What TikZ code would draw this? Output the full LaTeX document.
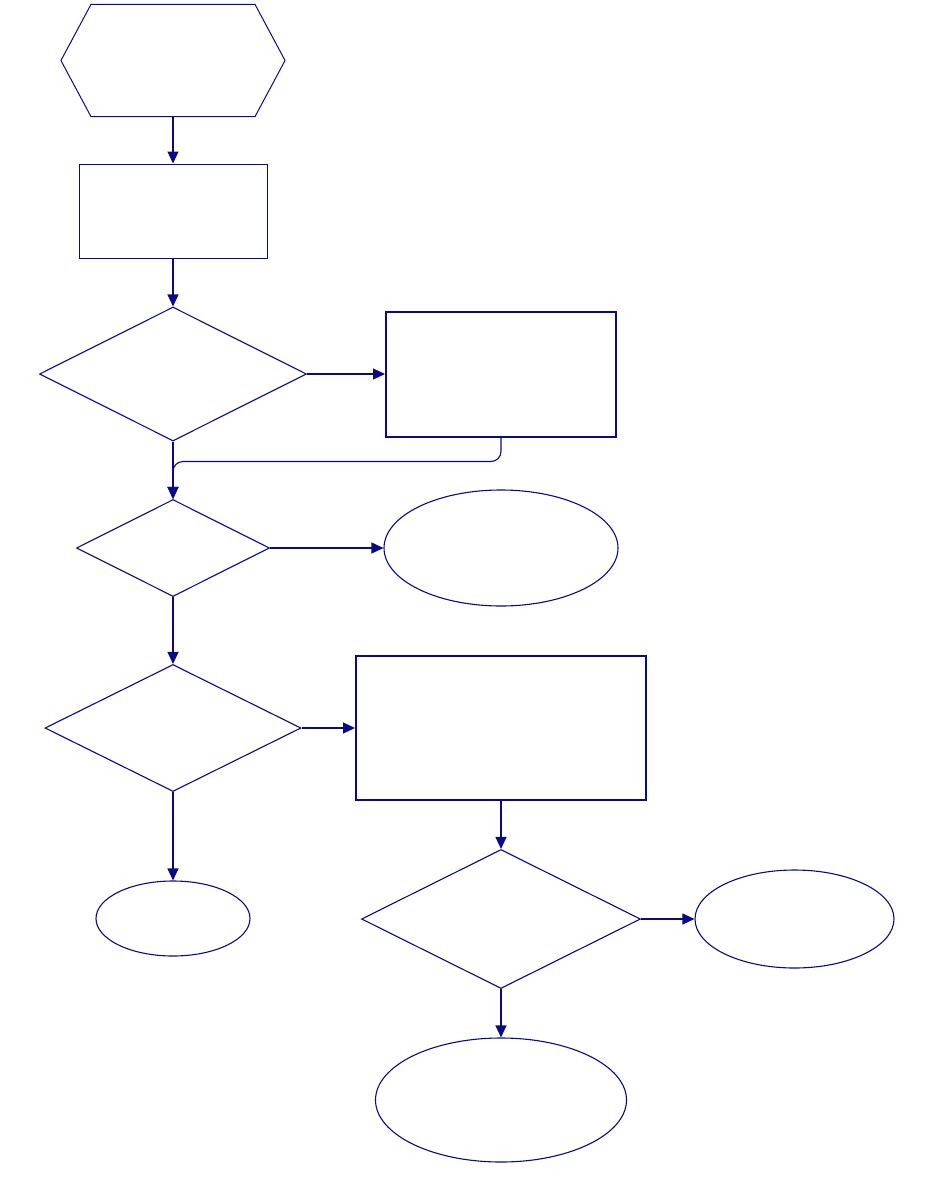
\documentclass[tikz,border=0pt]{standalone}
\usetikzlibrary{shapes.geometric,arrows.meta,calc}
\definecolor{navy}{RGB}{10,10,135}
\begin{document}
\begin{tikzpicture}[x=1pt,y=-1pt,
  line width=1.1pt,
  every node/.style={draw=navy,inner sep=0pt,line width=1.1pt},
  box/.style={rectangle,line width=1pt},
  thickbox/.style={rectangle,line width=2pt},
  dia/.style={diamond},
  ell/.style={ellipse},
  conn/.style={draw=navy,-{Triangle[length=12pt,width=11pt]}}]
\useasboundingbox (0,0) rectangle (926,1200);
% hexagon
\node[draw=none,minimum width=223,minimum height=111] (hex) at (173,60.5) {};
\draw[navy,line width=1pt] (hex.west) -- ($(hex.north west)+(30,0)$) -- ($(hex.north east)+(-30,0)$) -- (hex.east) -- ($(hex.south east)+(-30,0)$) -- ($(hex.south west)+(30,0)$) -- cycle;
\node[box,minimum width=188,minimum height=94] (r1) at (173,211) {};
\node[dia,minimum width=267,minimum height=134] (d1) at (173,374) {};
\node[thickbox,minimum width=230,minimum height=125] (r2) at (501,374) {};
\node[dia,minimum width=193,minimum height=97] (d2) at (173,548) {};
\node[ell,minimum width=234,minimum height=116] (e1) at (501,548) {};
\node[dia,minimum width=256,minimum height=127] (d3) at (173,728) {};
\node[thickbox,minimum width=290,minimum height=144] (r3) at (501,728) {};
\node[ell,minimum width=154,minimum height=75] (e2) at (173,918.5) {};
\node[dia,minimum width=279,minimum height=139] (d4) at (501,919) {};
\node[ell,minimum width=199,minimum height=98] (e3) at (794.5,919) {};
\node[ell,minimum width=251,minimum height=124] (e4) at (501,1100) {};
% connectors
\draw[conn] (hex.south) -- (r1.north);
\draw[conn] (r1.south) -- (d1.north);
\draw[conn] (d1.east) -- (r2.west);
\draw[conn] (d1.south) -- (d2.north);
\draw[conn,rounded corners=10pt] (r2.south) -- ++(0,24) -| (d2.north);
\draw[conn] (d2.east) -- (e1.west);
\draw[conn] (d2.south) -- (d3.north);
\draw[conn] (d3.east) -- (r3.west);
\draw[conn] (d3.south) -- (e2.north);
\draw[conn] (r3.south) -- (d4.north);
\draw[conn] (d4.east) -- (e3.west);
\draw[conn] (d4.south) -- (e4.north);
\end{tikzpicture}
\end{document}
